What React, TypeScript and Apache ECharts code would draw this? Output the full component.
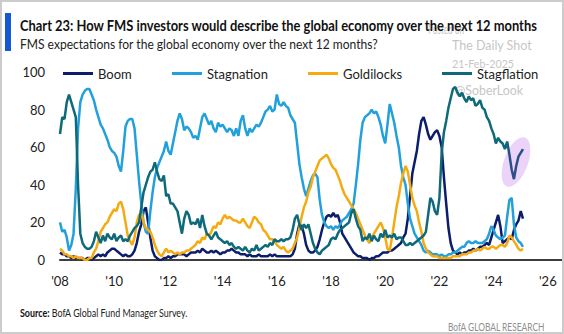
import React, { useEffect, useRef } from 'react';
import * as echarts from 'echarts';

const START_YEAR = 2008; // first monthly observation: Jan 2008

const seriesNames = ['Boom', 'Stagnation', 'Goldilocks', 'Stagflation'];
const seriesColors = ['#0b1d6b', '#22a0db', '#f4aa10', '#0e6a78'];

const boom = [4,3,3,2,2,1,2,1,1,1,
 1,0,1,1,0,1,2,3,2,3,
 2,4,5,6,6,5,4,3,2,3,
 2,2,3,5,9,15,19,26,28,20,
 12,5,2,1,0,0,1,1,2,1,
 2,2,3,3,3,3,2,3,4,4,
 4,5,4,6,5,4,4,5,4,5,
 4,3,4,4,5,5,6,5,4,4,
 3,3,3,2,3,2,2,2,3,2,
 2,2,2,3,2,3,2,2,2,2,
 2,2,2,3,6,14,19,18,14,8,
 5,4,4,5,7,11,16,20,23,24,
 23,25,23,24,20,14,12,10,8,6,
 4,3,2,2,1,1,1,0,1,1,
 2,2,3,4,4,4,5,5,6,7,
 8,9,12,14,22,34,46,52,58,67,
 74,76,72,67,64,66,68,69,66,60,
 44,30,17,9,5,4,3,4,3,4,
 4,5,5,6,5,6,7,7,8,9,
 8,12,16,20,24,18,9,10,11,12,
 11,16,19,21,26,22];

const stagnation = [20,15,16,12,5,8,14,38,70,84,
 88,90,91,91,88,85,80,76,72,70,
 67,64,60,58,57,55,50,47,58,71,
 74,75,75,70,56,42,30,20,15,14,
 26,36,44,49,52,55,58,63,58,56,
 62,68,74,78,75,69,71,70,68,65,
 66,64,70,76,78,75,72,74,70,68,
 73,71,72,70,68,70,69,66,70,66,
 74,77,70,66,70,68,70,72,71,73,
 76,79,80,82,79,80,88,83,82,84,
 82,81,77,75,73,62,51,44,38,34,
 38,42,45,46,44,32,24,20,18,17,
 18,16,18,17,19,21,22,23,25,27,
 30,40,51,64,73,76,77,78,80,78,
 79,76,72,66,62,72,83,78,73,66,
 60,50,44,40,30,22,18,14,12,10,
 8,5,4,5,4,3,3,3,2,3,
 2,2,3,3,4,4,5,6,7,7,
 9,10,9,9,10,9,9,9,10,11,
 14,18,16,13,12,11,12,13,23,32,
 33,19,12,10,9,7];

const goldilocks = [6,5,3,3,2,2,1,2,1,1,
 1,0,0,1,1,4,6,10,15,17,
 19,20,23,25,27,26,30,31,27,20,
 13,10,8,12,20,24,25,20,17,16,
 15,12,8,5,3,2,4,6,4,5,
 4,3,4,3,4,4,5,5,6,7,
 8,10,9,12,11,14,13,15,18,17,
 20,19,22,24,22,23,22,21,21,20,
 20,22,20,18,17,20,23,22,20,19,
 16,15,13,11,11,10,8,7,6,7,
 5,4,5,6,9,12,17,23,28,31,
 36,39,44,47,50,53,54,55,56,54,
 51,49,48,45,42,38,35,33,31,29,
 27,25,22,19,16,13,11,9,12,14,
 16,18,20,17,12,6,5,12,20,28,
 34,41,46,50,47,40,33,29,26,20,
 15,9,6,4,3,2,2,2,1,1,
 1,1,1,1,2,2,2,2,3,3,
 3,4,4,5,5,6,5,6,7,6,
 6,7,7,6,7,8,8,7,9,13,
 12,10,8,6,5,6];

const stagflation = [67,76,75,84,88,84,80,76,40,14,
 9,7,6,6,7,10,15,12,9,13,
 10,14,12,11,14,10,12,13,10,11,
 10,13,15,17,18,20,28,36,40,44,
 47,48,52,47,43,42,45,34,35,30,
 30,28,26,20,14,22,26,24,19,20,
 19,22,17,24,18,14,13,11,13,15,
 12,11,10,9,10,8,9,7,6,7,
 6,5,7,5,4,6,5,8,5,6,
 7,8,7,9,8,11,10,10,11,10,
 11,11,12,16,22,24,19,16,19,17,
 19,14,9,6,4,3,5,6,7,8,
 11,12,11,14,16,17,18,19,20,25,
 27,22,18,16,10,12,11,14,10,13,
 11,10,14,12,16,12,13,12,14,11,
 12,12,10,8,8,9,8,9,10,11,
 12,13,15,24,33,31,26,24,33,57,
 68,74,81,86,91,92,89,87,89,86,
 84,87,85,86,82,83,85,81,80,76,
 74,70,67,62,65,63,62,59,63,56,
 48,43,50,55,57,59];

const seriesValues = [boom, stagnation, goldilocks, stagflation];
const yTicks = [0, 20, 40, 60, 80, 100];
const xTickYears = [2008, 2010, 2012, 2014, 2016, 2018, 2020, 2022, 2024, 2026];

const titleText = 'Chart 23: How FMS investors would describe the global economy over the next 12 months';
const subtitleText = 'FMS expectations for the global economy over the next 12 months?';
const sourceBold = 'Source:';
const sourceRest = ' BofA Global Fund Manager Survey.';
const brandText = 'BofA GLOBAL RESEARCH';

const FONT = "Lato, 'Liberation Sans', Arial, sans-serif";

function textWidth(text: string, size: number, weight: string) {
  const ctx = document.createElement('canvas').getContext('2d')!;
  ctx.font = `${weight} ${size}px ${FONT}`;
  return ctx.measureText(text).width;
}

function fittedText(text: string, x: number, y: number, size: number, weight: string, color: string, target: number, z = 10) {
  const s = target / textWidth(text, size, weight);
  return {
    type: 'text', x, y, scaleX: s, scaleY: 1, z, silent: true,
    style: { text, fontSize: size, fontWeight: weight, fontFamily: FONT, fill: color, align: 'left', verticalAlign: 'middle' },
  };
}

function toPoints(values: number[]) {
  return values.map((v, i) => [START_YEAR + i / 12, v]);
}

function buildOption() {
  const legendLefts = [63, 172, 308, 442];
  const srcTotal = textWidth(sourceBold, 11, 'bold') + textWidth(sourceRest, 11, 'normal');
  const srcScale = 168 / srcTotal;
  const boldW = textWidth(sourceBold, 11, 'bold') * srcScale;
  const watermark = '#c6c6c6';

  // highlighted tail of the stagflation line (inside the circled region)
  const n = stagflation.length;
  const firstX = START_YEAR;
  const lastX = START_YEAR + (n - 1) / 12;
  const cut = (2024.53 - firstX) / (lastX - firstX);
  const stagflationStroke = new echarts.graphic.LinearGradient(0, 0, 1, 0, [
    { offset: 0, color: seriesColors[3] },
    { offset: cut, color: seriesColors[3] },
    { offset: Math.min(1, cut + 0.0005), color: '#2b4f86' },
    { offset: 1, color: '#2b4f86' },
  ]);

  return {
    animation: false,
    backgroundColor: '#ffffff',
    grid: { left: 60, right: 1, top: 72, bottom: 74, containLabel: false },
    xAxis: {
      type: 'value',
      min: 2008,
      max: 2026.56,
      interval: 2,
      splitLine: { show: false },
      axisTick: { show: false },
      axisLine: { show: true, lineStyle: { color: '#3d3d3d', width: 2 } },
      axisLabel: {
        margin: 14,
        fontSize: 13,
        fontFamily: FONT,
        color: '#222',
        showMaxLabel: false,
        formatter: (v: number) => (xTickYears.indexOf(v) >= 0 ? "'" + String(v).slice(2) : ''),
      },
    },
    yAxis: {
      type: 'value',
      min: 0,
      max: 100,
      interval: 20,
      splitLine: { show: false },
      axisLine: { show: false },
      axisTick: { show: false },
      axisLabel: {
        margin: 15,
        fontSize: 13,
        fontFamily: FONT,
        color: '#222',
        formatter: (v: number) => (yTicks.indexOf(v) >= 0 ? String(v) : ''),
      },
    },
    legend: seriesNames.map((name, k) => ({
      data: [{ name, itemStyle: { color: seriesColors[k] } }],
      left: legendLefts[k],
      top: 67,
      icon: 'rect',
      itemWidth: 30,
      itemHeight: 3,
      padding: 0,
      selectedMode: false,
      textStyle: { fontSize: 13, fontFamily: FONT, color: '#222' },
    })),
    series: seriesNames.map((name, k) => ({
      name,
      type: 'line',
      data: toPoints(seriesValues[k]),
      showSymbol: false,
      symbol: 'none',
      z: 3 + k,
      lineStyle: { width: 2.5, color: k === 3 ? stagflationStroke : seriesColors[k] },
      itemStyle: { color: seriesColors[k] },
    })),
    graphic: [
      { type: 'rect', x: 1, y: 1, z: 20, silent: true, shape: { width: 562, height: 332 }, style: { fill: 'none', stroke: '#cccccc', lineWidth: 2 } },
      { type: 'rect', x: 5, y: 13, z: 10, silent: true, shape: { width: 6, height: 38 }, style: { fill: '#1458d2' } },
      { type: 'ellipse', x: 516, y: 162, rotation: -0.35, z: 0, silent: true, shape: { cx: 0, cy: 0, rx: 12, ry: 26 }, style: { fill: '#ebd4f7' } },
      fittedText('Posted on', 428, 29, 13, 'normal', watermark, 36, 1),
      fittedText('The Daily Shot', 452, 45, 14, 'normal', watermark, 80, 1),
      fittedText('21-Feb-2025', 452, 63, 12, 'normal', watermark, 62, 1),
      fittedText('@SoberLook', 455, 90, 14, 'normal', watermark, 68, 1),
      fittedText(titleText, 20, 24.5, 16, 'bold', '#111111', 519, 10),
      fittedText(subtitleText, 20, 43.5, 14, 'normal', '#222222', 359, 10),
      {
        type: 'text', x: 20, y: 313, scaleX: srcScale, z: 10, silent: true,
        style: { text: sourceBold, fontSize: 11, fontWeight: 'bold', fontFamily: FONT, fill: '#111', align: 'left', verticalAlign: 'middle' },
      },
      {
        type: 'text', x: 20 + boldW, y: 313, scaleX: srcScale, z: 10, silent: true,
        style: { text: sourceRest, fontSize: 11, fontWeight: 'normal', fontFamily: FONT, fill: '#222', align: 'left', verticalAlign: 'middle' },
      },
      fittedText(brandText, 448, 327, 11, 'normal', '#8f8f8f', 97, 10),
    ],
  };
}

export default function App() {
  const ref = useRef<HTMLDivElement>(null);
  useEffect(() => {
    const chart = echarts.init(ref.current!, null, { renderer: 'svg', width: 564, height: 334 });
    chart.setOption(buildOption() as any);
    return () => chart.dispose();
  }, []);
  return (
    <div
      ref={ref}
      style={{ position: 'fixed', left: 0, top: 0, width: 564, height: 334, background: '#fff' }}
    />
  );
}
